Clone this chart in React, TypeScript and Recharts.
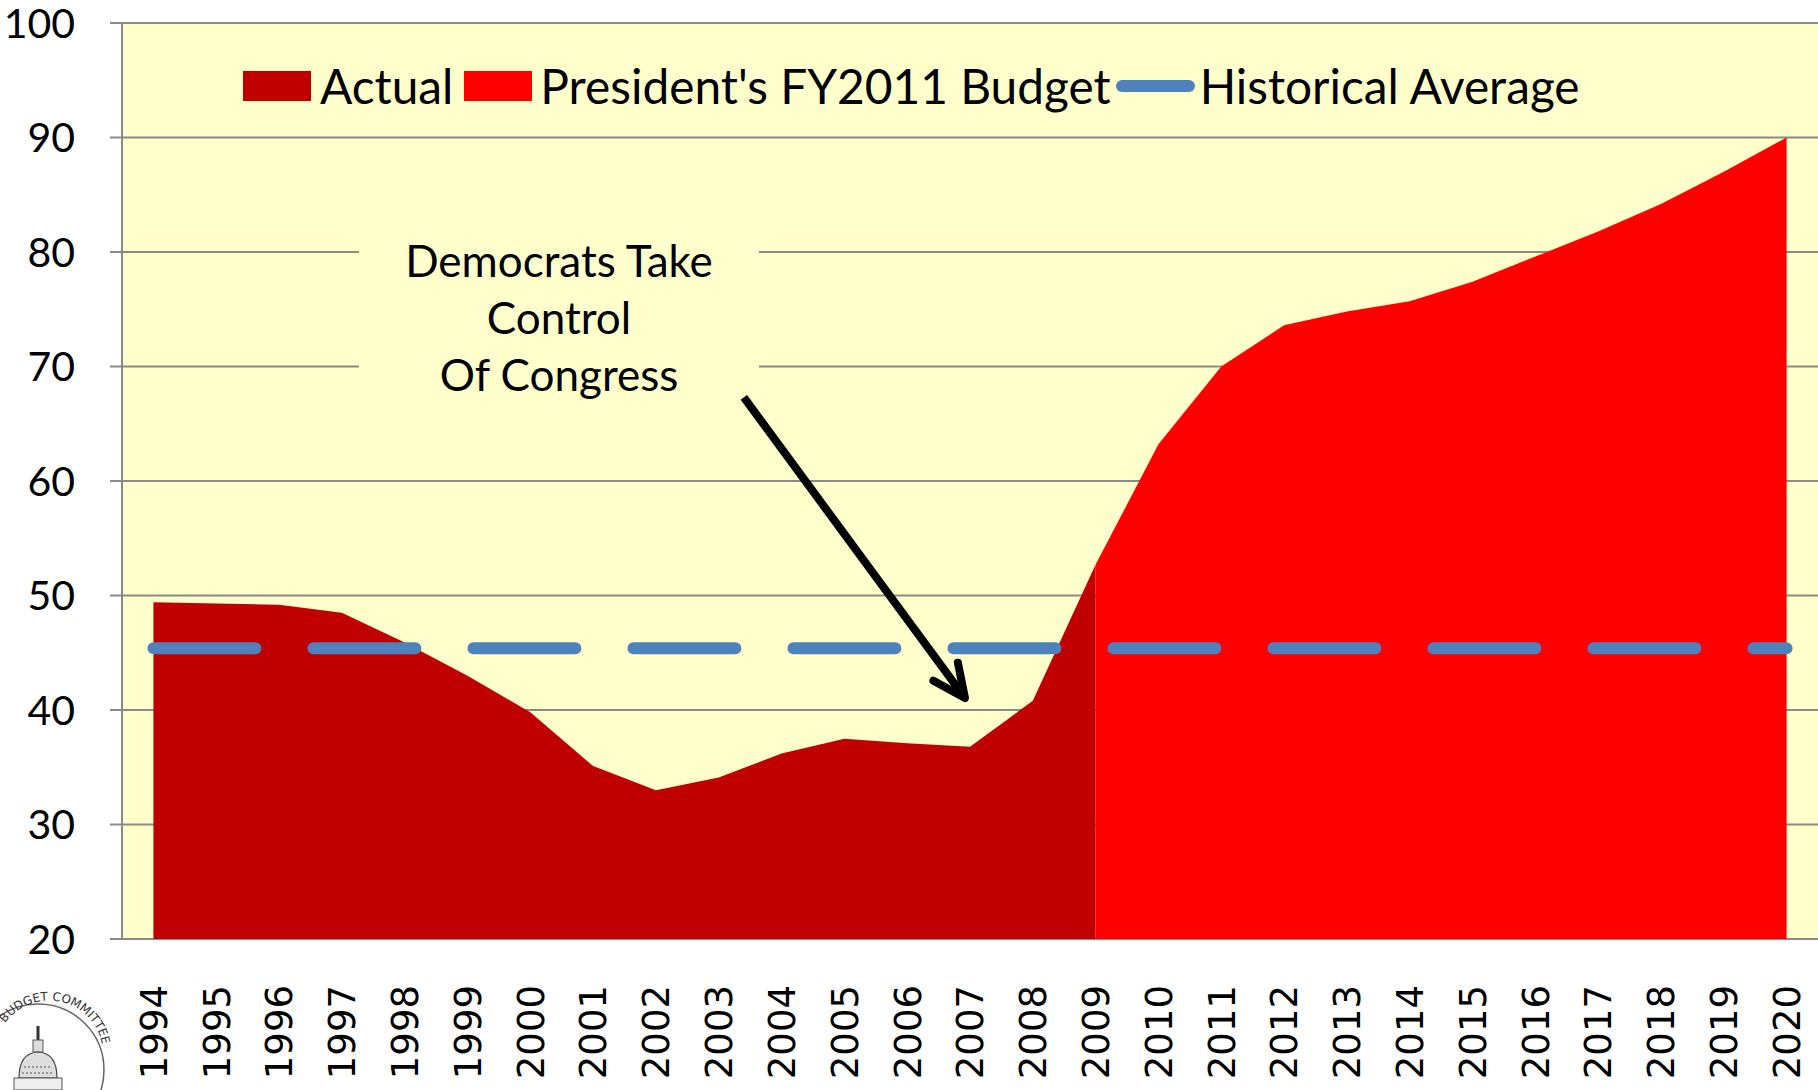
import { ComposedChart, Area, Line, XAxis, YAxis, CartesianGrid, ReferenceLine, Legend } from "recharts"

const years = [
  1994, 1995, 1996, 1997, 1998, 1999, 2000, 2001, 2002, 2003, 2004, 2005, 2006, 2007,
  2008, 2009, 2010, 2011, 2012, 2013, 2014, 2015, 2016, 2017, 2018, 2019, 2020,
]

// debt held by public, % of GDP
const actual = [
  49.4, 49.3, 49.2, 48.5, 45.9, 43.0, 39.8, 35.1, 33.0, 34.1, 36.2, 37.5, 37.1, 36.8,
  40.8, 52.7, null, null, null, null, null, null, null, null, null, null, null,
]

const budget = [
  null, null, null, null, null, null, null, null, null, null, null, null, null, null,
  null, 52.7, 63.2, 70.0, 73.6, 74.8, 75.7, 77.4, 79.6, 81.8, 84.2, 87.0, 90.0,
]

const historicalAverage = [
  45.4, 45.4, 45.4, 45.4, 45.4, 45.4, 45.4, 45.4, 45.4, 45.4, 45.4, 45.4, 45.4, 45.4,
  45.4, 45.4, 45.4, 45.4, 45.4, 45.4, 45.4, 45.4, 45.4, 45.4, 45.4, 45.4, 45.4,
]

const yTicks = [20, 30, 40, 50, 60, 70, 80, 90, 100]

// tick marks sit between the years, like the original
const boundaryTicks = [
  1993.5, 1994.5, 1995.5, 1996.5, 1997.5, 1998.5, 1999.5, 2000.5, 2001.5, 2002.5,
  2003.5, 2004.5, 2005.5, 2006.5, 2007.5, 2008.5, 2009.5, 2010.5, 2011.5, 2012.5,
  2013.5, 2014.5, 2015.5, 2016.5, 2017.5, 2018.5, 2019.5, 2020.5,
]

const arrowFrom = { x: 2003.4, y: 67.3 }
const arrowTo = { x: 2006.92, y: 41.05 }

const data = years.map((year, i) => ({
  year,
  actual: actual[i],
  budget: budget[i],
  average: historicalAverage[i],
}))

const FONT = "Lato, 'Open Sans', sans-serif"
const GRID = "#8a8a8a"
const ACTUAL_COLOR = "#C00000"
const BUDGET_COLOR = "#FF0000"
const AVG_COLOR = "#4F81BD"

function YearTick(props: any) {
  const { x, y, payload } = props
  return (
    <text
      transform={`translate(${x},${y + 46}) rotate(-90)`}
      textAnchor="end"
      dy="0.36em"
      fontFamily="'DejaVu Sans', sans-serif"
      fontSize={37}
      fill="#000"
    >
      {payload.value}
    </text>
  )
}

function ArrowShape(props: any) {
  const { x1, y1, x2, y2 } = props
  const ang = Math.atan2(y2 - y1, x2 - x1)
  const len = 36
  const spread = (25 * Math.PI) / 180
  const ax = x2 - len * Math.cos(ang - spread)
  const ay = y2 - len * Math.sin(ang - spread)
  const bx = x2 - len * Math.cos(ang + spread)
  const by = y2 - len * Math.sin(ang + spread)
  return (
    <g stroke="#000" strokeWidth={8} strokeLinecap="round" strokeLinejoin="round" fill="none">
      <line x1={x1} y1={y1} x2={x2} y2={y2} strokeLinecap="butt" />
      <polyline points={`${ax},${ay} ${x2},${y2} ${bx},${by}`} />
    </g>
  )
}

function ChartLegend() {
  const text = { fontFamily: FONT, fontSize: 47.8, color: "#000", lineHeight: "48px", whiteSpace: "nowrap" as const }
  return (
    <div style={{ display: "flex", alignItems: "center" }}>
      <span style={{ width: 68, height: 30, background: ACTUAL_COLOR, marginRight: 9 }} />
      <span style={text}>Actual</span>
      <span style={{ width: 68, height: 30, background: BUDGET_COLOR, marginLeft: 11, marginRight: 8 }} />
      <span style={text}>President's FY2011 Budget</span>
      <span style={{ width: 79, height: 12, borderRadius: 6, background: AVG_COLOR, marginLeft: 5, marginRight: 5 }} />
      <span style={text}>Historical Average</span>
    </div>
  )
}

function Seal() {
  return (
    <svg width={130} height={100} style={{ position: "absolute", left: 0, top: 990 }}>
      <defs>
        <path id="sealArc" d="M 0 42 A 54 54 0 1 1 87 103" />
      </defs>
      <circle cx={38} cy={80} r={66} fill="#fff" stroke="#666" strokeWidth={1.5} />
      <text fontFamily="'DejaVu Sans', sans-serif" fontSize={12} fill="#333">
        <textPath href="#sealArc" startOffset={10}>
          BUDGET COMMITTEE
        </textPath>
      </text>
      <line x1={38} y1={36} x2={38} y2={50} stroke="#333" strokeWidth={3} />
      <rect x={33} y={50} width={10} height={12} fill="#ddd" stroke="#555" />
      <path d="M 19 88 Q 19 63 38 62 Q 57 63 57 88 Z" fill="#ddd" stroke="#444" strokeWidth={1.2} />
      <path d="M 24 77 H 52 M 22 83 H 54" stroke="#555" strokeWidth={1} strokeDasharray="2 2" />
      <rect x={14} y={88} width={48} height={12} fill="#eee" stroke="#555" />
    </svg>
  )
}

export default function App() {
  return (
    <div style={{ position: "absolute", left: 0, top: 0, width: 1818, height: 1090, background: "#fff" }}>
      <ComposedChart width={1818} height={1090} data={data} margin={{ top: 23, right: 0, bottom: 0, left: 0 }}>
        <CartesianGrid vertical={false} stroke={GRID} strokeWidth={2} fill="#FFFFCC" fillOpacity={1} />
        <XAxis
          xAxisId="frame"
          type="number"
          dataKey="year"
          domain={[1993.5, 2020.5]}
          ticks={boundaryTicks}
          interval={0}
          height={0}
          tickSize={14}
          tick={() => <g />}
          stroke={GRID}
          strokeWidth={2}
        />
        <XAxis
          xAxisId="year"
          type="number"
          dataKey="year"
          domain={[1993.5, 2020.5]}
          ticks={years}
          interval={0}
          height={151}
          tickSize={0}
          tickMargin={0}
          tickLine={false}
          axisLine={false}
          tick={<YearTick />}
        />
        <YAxis
          domain={[20, 100]}
          ticks={yTicks}
          interval={0}
          width={122}
          tickSize={12}
          tickMargin={35}
          stroke={GRID}
          strokeWidth={2}
          tick={{ fill: "#000", fontSize: 41, fontFamily: FONT }}
        />
        <Area
          xAxisId="year"
          dataKey="actual"
          name="Actual"
          type="linear"
          fill={ACTUAL_COLOR}
          fillOpacity={1}
          stroke="none"
          isAnimationActive={false}
          dot={false}
          activeDot={false}
        />
        <Area
          xAxisId="year"
          dataKey="budget"
          name="President's FY2011 Budget"
          type="linear"
          fill={BUDGET_COLOR}
          fillOpacity={1}
          stroke="none"
          isAnimationActive={false}
          dot={false}
          activeDot={false}
        />
        <Line
          xAxisId="year"
          dataKey="average"
          name="Historical Average"
          type="linear"
          stroke={AVG_COLOR}
          strokeWidth={12}
          strokeDasharray="102 58"
          strokeLinecap="round"
          dot={false}
          activeDot={false}
          isAnimationActive={false}
        />
        <ReferenceLine xAxisId="year" segment={[arrowFrom, arrowTo]} shape={ArrowShape} />
        <Legend
          verticalAlign="middle"
          align="center"
          layout="horizontal"
          wrapperStyle={{ top: 62, left: 243, width: "auto", height: "auto" }}
          content={() => <ChartLegend />}
        />
      </ComposedChart>
      <div
        style={{
          position: "absolute",
          left: 359,
          top: 232,
          width: 400,
          height: 156,
          boxSizing: "border-box",
          background: "#FFFFCC",
          textAlign: "center",
          fontFamily: FONT,
          fontSize: 44,
          lineHeight: "57px",
          color: "#000",
        }}
      >
        Democrats Take
        <br />
        Control
        <br />
        Of Congress
      </div>
      <Seal />
    </div>
  )
}
